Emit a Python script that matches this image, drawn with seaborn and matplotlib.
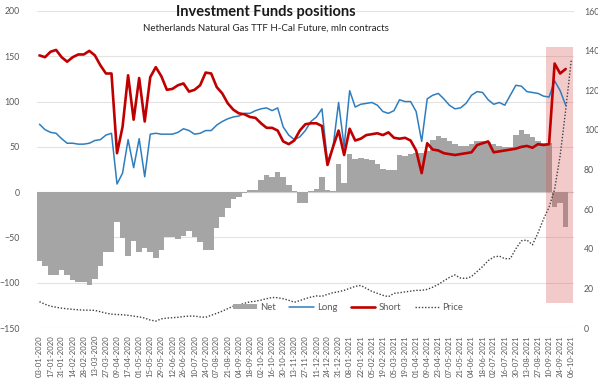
import numpy as np
import pandas as pd
import matplotlib
matplotlib.use("Agg")
import matplotlib.pyplot as plt
from matplotlib.patches import Patch
from matplotlib.lines import Line2D
import seaborn as sns

sns.set_style("white")
plt.rcParams['font.family'] = ['Lato', 'DejaVu Sans']

# ---------------- data ----------------
tick_labels = ["03-01-2020", "17-01-2020", "31-01-2020", "14-02-2020", "28-02-2020", "13-03-2020",
               "27-03-2020", "09-04-2020", "17-04-2020", "01-05-2020", "15-05-2020", "29-05-2020",
               "12-06-2020", "26-06-2020", "10-07-2020", "24-07-2020", "07-08-2020", "21-08-2020",
               "04-09-2020", "18-09-2020", "02-10-2020", "16-10-2020", "30-10-2020", "13-11-2020",
               "27-11-2020", "11-12-2020", "24-12-2020", "31-12-2020", "08-01-2021", "22-01-2021",
               "05-02-2021", "19-02-2021", "05-03-2021", "19-03-2021", "01-04-2021", "09-04-2021",
               "23-04-2021", "07-05-2021", "21-05-2021", "04-06-2021", "18-06-2021", "02-07-2021",
               "16-07-2021", "30-07-2021", "13-08-2021", "27-08-2021", "10-09-2021", "24-09-2021",
               "06-10-2021"]

net = [-76, -81, -92, -92, -86, -92, -97, -99, -99, -103,
       -96, -82, -66, -66, -33, -51, -71, -54, -66, -62,
       -66, -73, -64, -49, -49, -52, -48, -43, -49, -55,
       -64, -64, -40, -27, -18, -8, -5, -1, 2, 2,
       13, 19, 17, 22, 17, 8, 1, -12, -12, 1,
       4, 17, 2, 1, 31, 10, 42, 37, 38, 37,
       35, 31, 26, 25, 24, 41, 40, 42, 43, 43,
       45, 58, 62, 60, 57, 53, 51, 51, 53, 56,
       57, 55, 53, 51, 50, 50, 63, 69, 64, 61,
       57, 54, 54, -16, -12, -39]

long_pos = [75, 69, 66, 65, 59, 54, 54, 53, 53, 54,
            57, 58, 63, 65, 9, 21, 58, 27, 59, 17,
            64, 65, 64, 64, 64, 66, 70, 68, 64, 65,
            68, 68, 74, 78, 81, 83, 84, 87, 87, 90,
            92, 93, 90, 93, 72, 63, 58, 61, 68, 78,
            83, 92, 33, 50, 99, 50, 112, 94, 97, 98,
            99, 96, 89, 87, 90, 102, 100, 100, 89, 56,
            103, 107, 109, 103, 96, 92, 93, 98, 107, 111,
            110, 102, 97, 99, 96, 107, 118, 117, 111, 110,
            109, 106, 105, 123, 112, 96]

short_pos = [151, 149, 155, 157, 149, 144, 149, 152, 152, 156,
             151, 140, 131, 131, 43, 72, 129, 80, 126, 78,
             127, 138, 128, 113, 114, 118, 120, 111, 113, 118,
             132, 131, 116, 109, 98, 91, 87, 86, 83, 82,
             76, 71, 71, 68, 56, 53, 57, 68, 75, 76,
             76, 73, 30, 50, 68, 41, 70, 57, 59, 63,
             64, 65, 63, 66, 60, 59, 60, 57, 46, 21,
             54, 47, 46, 43, 42, 41, 42, 43, 44, 52,
             54, 56, 44, 45, 46, 47, 48, 50, 51, 49,
             53, 52, 53, 142, 131, 136]

price = [13.3, 12, 11, 10.5, 10, 9.7, 9.4, 9.2, 9, 9,
         8.9, 8.2, 7.5, 7, 6.8, 6.7, 6.4, 6, 5.6, 5,
         4, 3.5, 4.6, 5, 5.2, 5.4, 5.8, 6, 6, 5.6,
         5.4, 6.4, 7.4, 8.5, 9.8, 11, 11.5, 12.5, 13.2, 13.5,
         14.1, 14.8, 15.4, 15.3, 14.8, 14, 13, 13.8, 14.8, 15.6,
         16.2, 16, 17, 17.8, 18.3, 19, 20, 21, 21.5, 20,
         18.5, 17.5, 16.5, 15.8, 17.5, 17.8, 18.2, 18.6, 19, 19,
         19.5, 20.6, 22, 23.8, 25.5, 26.8, 25.2, 25, 26, 28.5,
         31, 34, 35.8, 36.3, 35, 35, 40, 44, 44.4, 42,
         48, 55, 61, 70, 87, 110, 135]

idx_pos = np.arange(len(net))
idx_price = np.arange(len(price))

# ---------------- figure ----------------
W, H = 598, 380
fig = plt.figure(figsize=(W / 100, H / 100), dpi=100)
ax = fig.add_axes([36.7 / W, 52 / H, (574 - 36.7) / W, 317 / H])

GRAY_TXT = "#595959"
C_NET = "#A5A5A5"
C_LONG = "#2E7EBF"
C_SHORT = "#C00000"
C_PRICE = "#404040"

sns.barplot(x=idx_pos, y=net, native_scale=True, width=1.0, color=C_NET,
            saturation=1, linewidth=0, errorbar=None, ax=ax, zorder=2)

# highlighted period
ax.axvspan(91.45, 96.3, ymin=0.079, ymax=0.886, color="#DA5050", alpha=0.3,
           lw=0, zorder=2.5)

sns.lineplot(x=idx_pos, y=long_pos, ax=ax, color=C_LONG, lw=1.1, zorder=3)
sns.lineplot(x=idx_pos, y=short_pos, ax=ax, color=C_SHORT, lw=1.9, zorder=3.1)

ax.set_xlim(-0.5, 96.5)
ax.set_ylim(-150, 200)
ax.set_yticks(range(-150, 201, 50))
ax.set_xticks(range(0, 97, 2))
ax.set_xticklabels(tick_labels, rotation=90, fontsize=5.6, color=GRAY_TXT)
ax.tick_params(axis='y', labelsize=6.3, labelcolor=GRAY_TXT, length=0, pad=12)
ax.tick_params(axis='x', length=0, pad=5)
ax.set_axisbelow(True)
ax.yaxis.grid(True, color="#E3E3E3", lw=0.8)
ax.axhline(0, color="#D0D0D0", lw=0.8, zorder=1.5)
ax.set_xlabel("")
ax.set_ylabel("")
for s in ax.spines.values():
    s.set_visible(False)

ax2 = ax.twinx()
sns.lineplot(x=idx_price, y=price, ax=ax2, color=C_PRICE, lw=1.0,
             linestyle=(0, (1, 1.3)))
ax2.set_ylim(0, 160)
ax2.set_yticks(range(0, 161, 20))
ax2.tick_params(axis='y', labelsize=6.3, labelcolor=GRAY_TXT, length=0, pad=7)
ax2.set_xlim(-0.5, 96.5)
ax2.set_ylabel("")
ax2.set_xlabel("")
for s in ax2.spines.values():
    s.set_visible(False)

# legend
handles = [Patch(facecolor=C_NET, edgecolor='none'),
           Line2D([], [], color=C_LONG, lw=1.1),
           Line2D([], [], color=C_SHORT, lw=1.9),
           Line2D([], [], color=C_PRICE, lw=1.0, linestyle=(0, (1, 1.3)))]
fig.legend(handles, ["Net", "Long", "Short", "Price"], loc='center',
           bbox_to_anchor=(348 / W, 1 - 307 / H), ncol=4, frameon=False,
           fontsize=6.8, handlelength=2.6, handleheight=0.4,
           columnspacing=1.4, handletextpad=0.35, labelcolor=GRAY_TXT)

fig.text(266 / W, 1 - 12 / H, "Investment Funds positions", ha='center', va='center',
         fontsize=10.5, fontweight='bold', color="#1A1A1A")
fig.text(266 / W, 1 - 28 / H, "Netherlands Natural Gas TTF H-Cal Future, mln contracts",
         ha='center', va='center', fontsize=7, color="#262626")

fig.savefig("out.png", dpi=100)
